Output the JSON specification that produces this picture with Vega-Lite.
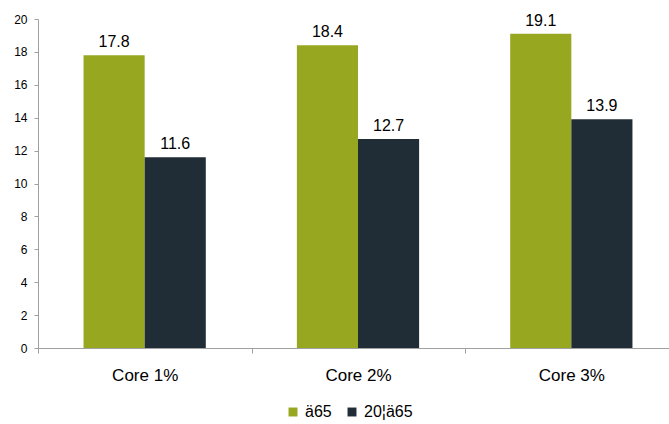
{
  "$schema": "https://vega.github.io/schema/vega-lite/v6.json",
  "width": 640,
  "height": 329,
  "autosize": "none",
  "padding": {"left": 38, "top": 19, "right": 0, "bottom": 76},
  "background": "white",
  "config": {
    "font": "Liberation Sans",
    "view": {"stroke": null}
  },
  "data": {
    "values": [
      {"group": "Core 1%", "series": "ä65", "value": 17.8},
      {"group": "Core 1%", "series": "20¦ä65", "value": 11.6},
      {"group": "Core 2%", "series": "ä65", "value": 18.4},
      {"group": "Core 2%", "series": "20¦ä65", "value": 12.7},
      {"group": "Core 3%", "series": "ä65", "value": 19.1},
      {"group": "Core 3%", "series": "20¦ä65", "value": 13.9}
    ]
  },
  "encoding": {
    "x": {
      "field": "group",
      "type": "nominal",
      "sort": null,
      "scale": {"paddingInner": 0.427, "paddingOuter": 0.2135},
      "axis": {
        "title": null,
        "labelAngle": 0,
        "labelFontSize": 17,
        "labelColor": "#000000",
        "labelPadding": 14,
        "tickOffset": -106.5,
        "labelOffset": 106.5,
        "tickSize": 5,
        "tickColor": "#a0a0a0",
        "domainColor": "#a0a0a0"
      }
    },
    "xOffset": {"field": "series", "type": "nominal", "sort": ["ä65", "20¦ä65"]},
    "y": {
      "field": "value",
      "type": "quantitative",
      "scale": {"domain": [0, 20], "nice": false},
      "axis": {
        "title": null,
        "values": [0, 2, 4, 6, 8, 10, 12, 14, 16, 18, 20],
        "grid": false,
        "labelFontSize": 12,
        "labelColor": "#000000",
        "labelPadding": 7,
        "tickSize": 4,
        "tickColor": "#a0a0a0",
        "domainColor": "#a0a0a0"
      }
    }
  },
  "layer": [
    {
      "mark": {"type": "bar"},
      "encoding": {
        "color": {
          "field": "series",
          "type": "nominal",
          "scale": {"domain": ["ä65", "20¦ä65"], "range": ["#97A720", "#202C36"]},
          "legend": {
            "title": null,
            "orient": "none",
            "legendX": 247,
            "legendY": 385,
            "direction": "horizontal",
            "symbolType": "square",
            "symbolSize": 80,
            "symbolStrokeWidth": 0,
            "labelFontSize": 16,
            "labelColor": "#000000",
            "columnPadding": 12
          }
        }
      }
    },
    {
      "mark": {"type": "text", "dy": -13, "fontSize": 16, "color": "#000000"},
      "encoding": {
        "text": {"field": "value", "type": "quantitative", "format": ".1f"}
      }
    }
  ]
}
